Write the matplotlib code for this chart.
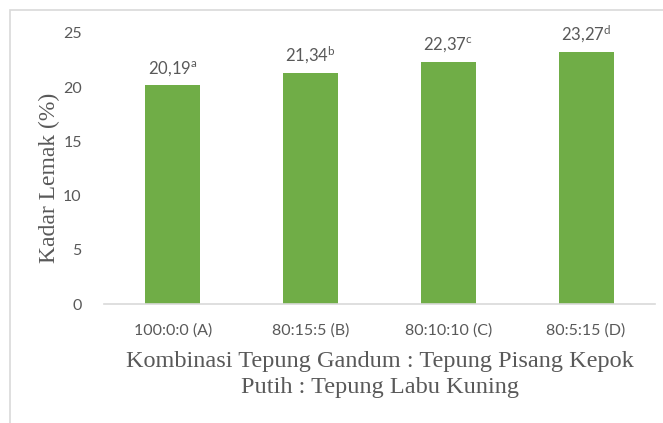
import matplotlib
matplotlib.use("Agg")
import matplotlib.pyplot as plt
from matplotlib.patches import Rectangle

# kadar lemak per kombinasi tepung
kategori = ["100:0:0 (A)", "80:15:5 (B)", "80:10:10 (C)", "80:5:15 (D)"]
kadar_lemak = [20.19, 21.34, 22.37, 23.27]
notasi = ["a", "b", "c", "d"]
y_ticks = [0, 5, 10, 15, 20, 25]

plt.rcParams['mathtext.fontset'] = 'custom'
plt.rcParams['mathtext.rm'] = 'Lato'
plt.rcParams['mathtext.it'] = 'Lato'

abu = '#595959'
hijau = '#70AD47'

W, H = 663, 423
fig = plt.figure(figsize=(W/100, H/100), dpi=100)
ax = fig.add_axes([104/W, 1-304/H, (655-104)/W, (304-33)/H])

x = range(len(kategori))
bars = ax.bar(x, kadar_lemak, width=0.4, color=hijau, zorder=2)

for xi, v, n in zip(x, kadar_lemak, notasi):
    lbl = ('%.2f' % v).replace('.', ',') + r'$^{\mathrm{' + n + '}}$'
    ax.text(xi, v + 0.65, lbl, ha='center', va='bottom', fontsize=12,
            family='Lato', color=abu)

ax.set_xlim(-0.5, len(kategori) - 0.5)
ax.set_ylim(0, 25)
ax.set_yticks(y_ticks)
ax.set_xticks(list(x))
ax.set_xticklabels(kategori)
for lab in ax.get_xticklabels() + ax.get_yticklabels():
    lab.set_family('Lato')
    lab.set_fontsize(11.5)
    lab.set_color(abu)
ax.tick_params(length=0, pad=16)
ax.tick_params(axis='x', pad=14)

for s in ['top', 'right', 'left']:
    ax.spines[s].set_visible(False)
ax.spines['bottom'].set_color('#D9D9D9')
ax.spines['bottom'].set_linewidth(1.2)

ax.set_ylabel("Kadar Lemak (%)", family='Liberation Serif', fontsize=17,
              color=abu)
ax.yaxis.set_label_coords((60 - 104) / 551, (304 - 178) / 271)
ax.set_xlabel("Kombinasi Tepung Gandum : Tepung Pisang Kepok\nPutih : Tepung Labu Kuning",
              family='Liberation Serif', fontsize=17.5, color=abu,
              linespacing=1.3)
ax.xaxis.set_label_coords((380 - 104) / 551, (304 - 351) / 271)

# bingkai abu-abu
fig.patches.append(Rectangle((10/W, -0.1), 2, 1 - 10/H + 0.1,
                             transform=fig.transFigure, fill=False,
                             edgecolor='#D9D9D9', linewidth=1.2))

fig.savefig("out.png", dpi=100)
